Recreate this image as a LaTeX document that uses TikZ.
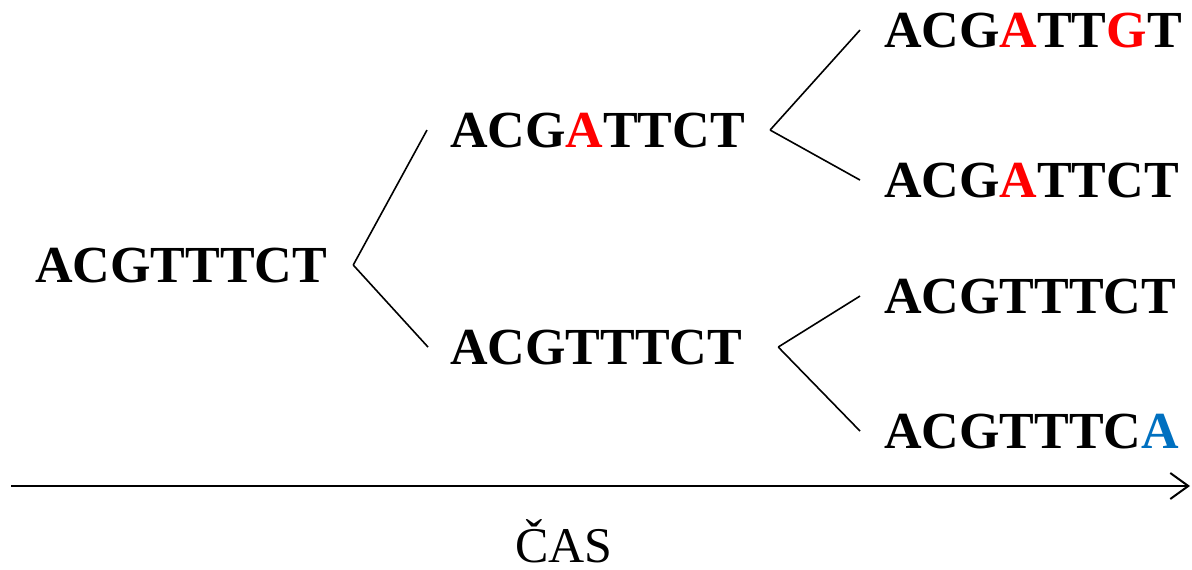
\documentclass[tikz,border=0pt]{standalone}
\usepackage{fontspec}
\setmainfont{Liberation Serif}
\usepackage{xcolor}
\usetikzlibrary{positioning,arrows.meta}

\definecolor{mutred}{RGB}{255,0,0}
\definecolor{mutblue}{RGB}{0,112,192}

\begin{document}
\begin{tikzpicture}[
					x=1pt, y=-1pt,
					seq/.style={anchor=base west, inner sep=0pt, font=\fontsize{52}{56}\selectfont\bfseries},
					branch/.style={black, line width=1.6pt},
					timeaxis/.style={-{Straight Barb[length=18pt,width=26pt]}, line width=2pt},
					axislabel/.style={anchor=base, inner sep=0pt, font=\fontsize{50}{54}\selectfont}
					]
					\useasboundingbox (0,0) rectangle (1192,570);
					
					% ===== ROOT =====
					\node[seq] (root) at (35,282) {ACGTTTCT};
					
					% ===== LEVEL 1 =====
					\node[seq] (up)   at (450,147) {ACG\textcolor{mutred}{A}TTCT};
					\node[seq] (down) at (450,364) {ACGTTTCT};
					
					% ===== LEVEL 2 =====
					\node[seq] (uu) at (884,47)  {ACG\textcolor{mutred}{A}TT\textcolor{mutred}{G}T};
					\node[seq] (ud) at (884,197) {ACG\textcolor{mutred}{A}TTCT};
					\node[seq] (du) at (884,313) {ACGTTTCT};
					\node[seq] (dd) at (884,448) {ACGTTTC\textcolor{mutblue}{A}};
					
					% ===== BRANCHES =====
					\draw[branch] ([xshift=26pt]root.east) -- ([xshift=-23pt]up.west);
					\draw[branch] ([xshift=26pt]root.east) -- ([xshift=-22pt]down.west);
					
					\draw[branch] ([xshift=25pt]up.east) -- ([xshift=-24pt]uu.west);
					\draw[branch] ([xshift=25pt]up.east) -- ([xshift=-24pt]ud.west);
					
					\draw[branch] ([xshift=36pt]down.east) -- ([xshift=-24pt]du.west);
					\draw[branch] ([xshift=36pt]down.east) -- ([xshift=-24pt]dd.west);
					
					% ===== TIME AXIS =====
					\coordinate (t0) at (11,486);
					\coordinate (t1) at (1190,486);
					\draw[timeaxis] (t0) -- (t1);
					\node[axislabel] (cas) at (564,562) {ČAS};
				\end{tikzpicture}
\end{document}
